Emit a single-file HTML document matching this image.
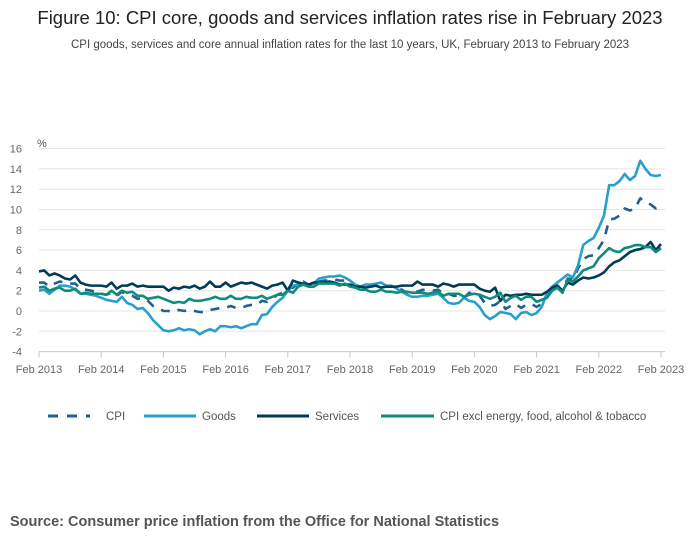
<!DOCTYPE html>
<html><head><meta charset="utf-8"><style>
body{margin:0;background:#fff;font-family:"Liberation Sans",sans-serif;}
svg text{font-family:"Liberation Sans",sans-serif;}
</style></head><body>
<svg width="700" height="549">
<text x="350" y="24" text-anchor="middle" font-size="18.5" fill="#222">Figure 10: CPI core, goods and services inflation rates rise in February 2023</text>
<text x="350" y="48" text-anchor="middle" font-size="11.5" fill="#444">CPI goods, services and core annual inflation rates for the last 10 years, UK, February 2013 to February 2023</text>
<text x="37" y="147" font-size="11" fill="#555">%</text>
<g id="grid"></g>
<g id="xaxis"></g>
<g id="series"></g>
<g font-size="11.5" fill="#555">
<g><line x1="48" y1="416" x2="90" y2="416" stroke="#206095" stroke-width="3" stroke-dasharray="10,9"/><text x="106" y="420">CPI</text></g>
<g><line x1="144" y1="416" x2="196" y2="416" stroke="#27a0cc" stroke-width="3"/><text x="202" y="420">Goods</text></g>
<g><line x1="257" y1="416" x2="309" y2="416" stroke="#003c57" stroke-width="3"/><text x="315" y="420">Services</text></g>
<g><line x1="381" y1="416" x2="434" y2="416" stroke="#118c7b" stroke-width="3"/><text x="440" y="420">CPI excl energy, food, alcohol &amp; tobacco</text></g>
</g>
<text x="10" y="526" font-size="14.5" font-weight="bold" fill="#555">Source: Consumer price inflation from the Office for National Statistics</text>
</svg>
<script>
const yTicks=[-4,-2,0,2,4,6,8,10,12,14,16];
const xTickLabels=["Feb 2013","Feb 2014","Feb 2015","Feb 2016","Feb 2017","Feb 2018","Feb 2019","Feb 2020","Feb 2021","Feb 2022","Feb 2023"];
const cpi=[2.8,2.8,2.4,2.7,2.9,2.8,2.7,2.7,2.2,2.1,2.0,
1.9,1.7,1.6,1.8,1.5,1.9,1.6,1.5,1.2,1.3,1.0,0.5,
0.3,0.0,0.0,-0.1,0.1,0.0,0.1,0.0,-0.1,-0.1,0.1,0.2,
0.3,0.3,0.5,0.3,0.3,0.5,0.6,0.6,1.0,0.9,1.2,1.6,
1.8,2.3,2.3,2.7,2.9,2.6,2.6,2.9,3.0,3.0,3.1,3.0,
3.0,2.7,2.5,2.4,2.4,2.4,2.5,2.7,2.4,2.4,2.3,2.1,
1.8,1.9,1.9,2.1,2.0,2.0,2.1,1.7,1.7,1.5,1.5,1.3,
1.8,1.7,1.5,0.8,0.5,0.6,1.0,0.2,0.5,0.7,0.3,0.6,
0.7,0.4,0.7,1.5,2.1,2.5,2.0,3.2,3.1,4.2,5.1,5.4,
5.5,6.2,7.0,9.0,9.1,9.4,10.1,9.9,10.1,11.1,10.7,10.5,
10.1,10.4];
const goods=[2.0,2.1,1.7,2.1,2.5,2.5,2.4,2.1,1.7,1.7,1.6,
1.5,1.3,1.1,1.0,0.9,1.4,0.8,0.6,0.2,0.3,-0.2,-0.9,
-1.4,-1.9,-2.0,-1.9,-1.7,-1.9,-1.8,-1.9,-2.3,-2.0,-1.8,-2.0,
-1.5,-1.5,-1.6,-1.5,-1.7,-1.5,-1.3,-1.3,-0.4,-0.3,0.4,0.9,
1.3,2.0,2.5,2.6,2.7,2.6,2.7,3.2,3.3,3.4,3.4,3.5,
3.3,3.0,2.6,2.4,2.6,2.6,2.7,2.8,2.5,2.5,2.2,1.9,
1.6,1.4,1.4,1.5,1.5,1.6,1.7,1.3,0.8,0.7,0.8,1.3,
1.0,0.9,0.4,-0.4,-0.8,-0.5,-0.1,-0.2,-0.3,-0.8,-0.2,-0.1,
-0.4,-0.2,0.4,1.8,2.4,2.8,3.2,3.6,3.3,4.5,6.5,6.9,
7.2,8.2,9.4,12.4,12.4,12.8,13.5,12.9,13.3,14.8,14.0,13.4,
13.3,13.4];
const services=[3.9,4.0,3.5,3.7,3.5,3.2,3.1,3.5,2.8,2.6,2.5,
2.5,2.5,2.4,2.8,2.2,2.5,2.5,2.7,2.4,2.5,2.4,2.4,
2.4,2.4,2.0,2.3,2.2,2.4,2.3,2.5,2.2,2.4,2.9,2.4,
2.4,2.8,2.4,2.6,2.8,2.7,2.8,2.6,2.4,2.2,2.5,2.6,
2.8,2.0,3.0,2.8,2.7,2.6,2.8,2.8,2.8,2.9,2.8,2.6,
2.6,2.6,2.4,2.4,2.3,2.4,2.5,2.3,2.4,2.4,2.4,2.5,
2.5,2.5,2.9,2.6,2.6,2.6,2.4,2.7,2.6,2.4,2.6,2.6,
2.6,2.6,2.2,2.0,1.9,2.3,1.0,1.6,1.5,1.6,1.6,1.7,
1.6,1.6,1.6,1.9,2.3,2.5,2.0,2.8,2.6,3.0,3.3,3.2,
3.3,3.5,3.8,4.4,4.8,5.0,5.4,5.8,6.0,6.1,6.3,6.8,
6.0,6.6];
const core=[2.3,2.4,2.0,2.2,2.3,2.0,2.0,2.2,1.7,1.8,1.7,
1.7,1.7,1.6,2.0,1.6,2.0,1.8,1.9,1.5,1.5,1.2,1.3,
1.4,1.2,1.0,0.8,0.9,0.8,1.2,1.0,1.0,1.1,1.2,1.4,
1.2,1.2,1.5,1.2,1.2,1.4,1.3,1.3,1.5,1.2,1.4,1.6,
1.6,2.0,1.8,2.4,2.6,2.4,2.4,2.7,2.7,2.7,2.7,2.5,
2.7,2.4,2.3,2.1,2.1,1.9,1.9,2.1,1.9,1.9,1.8,1.9,
1.9,1.8,1.8,1.8,1.7,1.8,1.9,1.5,1.7,1.7,1.7,1.4,
1.6,1.7,1.6,1.4,1.2,1.4,1.8,0.9,1.3,1.5,1.1,1.4,
1.4,0.9,1.1,1.3,2.0,2.3,1.8,3.1,2.9,3.4,4.0,4.2,
4.4,5.2,5.7,6.2,5.9,5.8,6.2,6.3,6.5,6.5,6.3,6.3,
5.8,6.2];
const X0=39,X1=661,NM=120,Y0=311,PU=10.15;
const xs=i=>X0+(X1-X0)*i/NM, ys=v=>Y0-v*PU;
const NS='http://www.w3.org/2000/svg';
function mk(tag,attrs,parent){const e=document.createElementNS(NS,tag);for(const k in attrs)e.setAttribute(k,attrs[k]);parent.appendChild(e);return e;}
const grid=document.getElementById('grid'),xa=document.getElementById('xaxis'),sr=document.getElementById('series');
yTicks.forEach(t=>{
 const l=mk('line',{x1:X0,x2:X1+4,y1:ys(t),y2:ys(t),stroke:t===-4?'#bcc8dc':'#e4e4e4','stroke-width':1},grid);
 
 
 const tx=mk('text',{x:22,y:ys(t)+4,'text-anchor':'end','font-size':11,fill:'#666'},grid);
 tx.textContent=t;
 
 
});
xTickLabels.forEach((lab,i)=>{
 const x=xs(i*12);
 const l=mk('line',{x1:x,x2:x,y1:ys(-4),y2:ys(-4)+6,stroke:'#bcc8dc'},xa);
 
 
 const tx=mk('text',{x:x,y:373,'text-anchor':'middle','font-size':11,fill:'#666'},xa);
 tx.textContent=lab;
 
 
});
function line(arr,color,name,dash){
 const p=mk('polyline',{points:arr.map((v,i)=>xs(i)+','+ys(v)).join(' '),fill:'none',stroke:color,'stroke-width':2.6,'stroke-linejoin':'round'},sr);
 if(dash)p.setAttribute('stroke-dasharray',dash);
 
 
}
line(cpi,'#206095','cpi-line','9,8');
line(goods,'#27a0cc','goods-line');
line(services,'#003c57','services-line');
line(core,'#118c7b','core-cpi-line');
</script>
</body></html>
